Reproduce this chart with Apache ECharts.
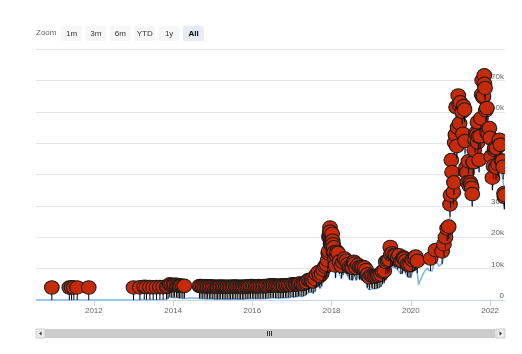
<!DOCTYPE html>
<html>
<head>
<meta charset="utf-8">
<script src="https://cdn.jsdelivr.net/npm/echarts@6/dist/echarts.min.js"></script>
<style>
  html, body { margin: 0; padding: 0; background: #fff; }
  #chart { width: 522px; height: 354px; }
</style>
</head>
<body>
<div id="chart"></div>
<script>
// price series (USD)
const priceDates = [
  '2010-07-17','2010-09-01','2010-12-10','2011-01-15','2011-03-01','2011-05-20','2011-06-10','2011-07-01','2011-08-01','2011-09-15','2011-11-15',
  '2012-02-01','2012-05-01','2012-08-15','2012-11-01',
  '2013-01-01','2013-03-01','2013-04-10','2013-05-01','2013-06-01','2013-07-01','2013-08-01','2013-09-01','2013-10-01','2013-11-01','2013-11-15','2013-12-01','2013-12-15',
  '2014-01-01','2014-01-15','2014-02-01','2014-02-15','2014-03-01','2014-03-15','2014-04-01','2014-04-15','2014-05-01','2014-06-01','2014-07-01','2014-08-01','2014-08-15',
  '2014-09-01','2014-09-15','2014-10-01','2014-10-15','2014-11-01','2014-11-15','2014-12-01','2014-12-15',
  '2015-01-01','2015-01-15','2015-02-01','2015-02-15','2015-03-01','2015-03-15','2015-04-01','2015-04-15','2015-05-01','2015-05-15','2015-06-01','2015-06-15',
  '2015-07-01','2015-07-15','2015-08-01','2015-08-15','2015-09-01','2015-09-15','2015-10-01','2015-10-15','2015-11-01','2015-11-15','2015-12-01','2015-12-15',
  '2016-01-01','2016-01-15','2016-02-01','2016-02-15','2016-03-01','2016-03-15','2016-04-01','2016-04-15','2016-05-01','2016-05-15','2016-06-01','2016-06-15',
  '2016-07-01','2016-07-15','2016-08-01','2016-08-15','2016-09-01','2016-09-15','2016-10-01','2016-10-15','2016-11-01','2016-11-15','2016-12-01','2016-12-15',
  '2017-01-01','2017-01-15','2017-02-01','2017-02-15','2017-03-01','2017-03-15','2017-04-01','2017-04-15','2017-05-01','2017-05-15','2017-06-01','2017-06-15',
  '2017-07-01','2017-07-15','2017-08-01','2017-08-15','2017-09-01','2017-09-15','2017-10-01','2017-10-15','2017-11-01','2017-11-15','2017-11-25',
  '2017-12-01','2017-12-05','2017-12-08','2017-12-11','2017-12-15','2017-12-17','2017-12-19','2017-12-22','2017-12-24','2017-12-28',
  '2018-01-01','2018-01-03','2018-01-06','2018-01-10','2018-01-15','2018-01-17','2018-01-20','2018-01-25','2018-02-01','2018-02-06','2018-02-15','2018-02-20',
  '2018-03-01','2018-03-15','2018-04-01','2018-04-15','2018-05-01','2018-05-15','2018-06-01','2018-06-15','2018-07-01','2018-07-15','2018-07-25',
  '2018-08-01','2018-08-15','2018-09-01','2018-09-15','2018-10-01','2018-10-15','2018-11-01','2018-11-15','2018-11-25','2018-12-01','2018-12-15',
  '2019-01-01','2019-01-15','2019-02-01','2019-02-15','2019-03-01','2019-03-15','2019-04-01','2019-04-15','2019-05-01','2019-05-15','2019-06-01','2019-06-15','2019-06-26',
  '2019-07-01','2019-07-15','2019-08-01','2019-08-15','2019-09-01','2019-09-15','2019-10-01','2019-10-15','2019-10-26','2019-11-01','2019-11-15','2019-12-01','2019-12-15',
  '2020-01-01','2020-01-15','2020-02-01','2020-02-15','2020-03-01','2020-03-12','2020-03-15','2020-04-01','2020-04-15','2020-05-01','2020-05-15','2020-06-01','2020-06-15',
  '2020-07-01','2020-07-15','2020-08-01','2020-08-15','2020-09-01','2020-09-15','2020-10-01','2020-10-15','2020-11-01','2020-11-15','2020-12-01','2020-12-15','2020-12-27',
  '2021-01-01','2021-01-08','2021-01-15','2021-01-27','2021-02-01','2021-02-08','2021-02-15','2021-02-21','2021-02-28','2021-03-07','2021-03-13','2021-03-20','2021-03-25',
  '2021-04-01','2021-04-13','2021-04-18','2021-04-25','2021-05-01','2021-05-10','2021-05-15','2021-05-19','2021-05-25','2021-06-01','2021-06-08','2021-06-15','2021-06-22',
  '2021-07-01','2021-07-08','2021-07-15','2021-07-20','2021-07-28','2021-08-01','2021-08-08','2021-08-15','2021-08-22','2021-09-01','2021-09-06','2021-09-08','2021-09-15','2021-09-21',
  '2021-10-01','2021-10-08','2021-10-15','2021-10-20','2021-10-28','2021-11-01','2021-11-08','2021-11-10','2021-11-15','2021-11-22','2021-12-01','2021-12-04','2021-12-15','2021-12-25',
  '2022-01-01','2022-01-10','2022-01-22','2022-02-01','2022-02-10','2022-02-15','2022-02-24','2022-03-01','2022-03-15','2022-03-28',
  '2022-04-05','2022-04-15','2022-04-25','2022-05-01','2022-05-09','2022-05-12','2022-05-15'
];
const priceValues = [
  0.05, 0.06, 0.2, 0.3, 0.9, 6, 29, 15, 13, 5, 2.5,
  6, 5, 12, 11,
  13, 34, 230, 115, 128, 88, 105, 130, 130, 200, 420, 1000, 800,
  750, 850, 830, 650, 560, 630, 480, 520, 450, 630, 640, 590, 490,
  480, 470, 390, 400, 330, 390, 380, 340,
  315, 210, 225, 235, 260, 285, 245, 220, 235, 237, 225, 250,
  260, 285, 280, 260, 230, 230, 238, 255, 325, 320, 360, 450,
  430, 385, 373, 400, 430, 415, 417, 430, 450, 455, 535, 690,
  675, 665, 605, 570, 572, 607, 615, 640, 730, 710, 750, 780,
  1000, 820, 990, 1010, 1190, 1250, 1080, 1180, 1420, 1720, 2400, 2450,
  2500, 1950, 2730, 4200, 4900, 3700, 4400, 5700, 6700, 7300, 8700,
  10900, 11600, 16000, 16700, 17600, 19100, 17800, 14000, 13900, 14500,
  13600, 15100, 17100, 14900, 13800, 11200, 12800, 11200, 9100, 7000, 10200, 11400,
  11000, 8300, 6900, 8000, 9200, 8500, 7500, 6500, 6400, 6300, 8200,
  7600, 6300, 7200, 6500, 6600, 6500, 6350, 5600, 3900, 4200, 3250,
  3840, 3600, 3480, 3600, 3800, 3920, 4140, 5050, 5350, 8200, 8550, 8800, 12900,
  10600, 10900, 10400, 10300, 9700, 10300, 8300, 8350, 9550, 9200, 8500, 7400, 7100,
  7200, 8800, 9400, 9900, 8500, 4900, 5400, 6600, 6650, 8800, 9300, 10200, 9400,
  9230, 9200, 11800, 11900, 11900, 10800, 10600, 11500, 13800, 16000, 18800, 19400, 26500,
  29400, 40600, 36800, 30400, 33500, 46200, 48700, 57500, 45100, 51000, 61200, 58300, 52300,
  59000, 63500, 56000, 49000, 57800, 56700, 46700, 37000, 38300, 36700, 33500, 40200, 32500,
  33500, 32800, 31800, 29800, 39900, 39900, 43800, 47000, 49300, 48800, 52700, 46300, 48100, 40700,
  48200, 53900, 61500, 66000, 60600, 61000, 67600, 64900, 63600, 56500, 57200, 49400, 48900, 50800,
  47700, 41800, 35000, 38700, 43900, 44500, 38300, 44400, 39300, 47100,
  45500, 40500, 40400, 38500, 30100, 28900, 29500
];

// flags sit on the price series at these dates
const flagDates = [
  '2010-12-10','2011-05-20','2011-06-10','2011-07-01','2011-08-01','2011-11-15','2013-01-01',
  '2013-03-01','2013-04-10','2013-05-01','2013-06-01','2013-07-01','2013-08-01','2013-09-01','2013-10-01','2013-11-01','2013-11-15','2013-12-01','2013-12-15',
  '2014-01-01','2014-01-15','2014-02-01','2014-02-15','2014-03-01','2014-03-15','2014-04-01','2014-04-15',
  '2014-09-01','2014-09-15','2014-10-01','2014-10-15','2014-11-01','2014-11-15','2014-12-01','2014-12-15',
  '2015-01-01','2015-01-15','2015-02-01','2015-02-15','2015-03-01','2015-03-15','2015-04-01','2015-04-15','2015-05-01','2015-05-15','2015-06-01','2015-06-15',
  '2015-07-01','2015-07-15','2015-08-01','2015-08-15','2015-09-01','2015-09-15','2015-10-01','2015-10-15','2015-11-01','2015-11-15','2015-12-01','2015-12-15',
  '2016-01-01','2016-01-15','2016-02-01','2016-02-15','2016-03-01','2016-03-15','2016-04-01','2016-04-15','2016-05-01','2016-05-15','2016-06-01','2016-06-15',
  '2016-07-01','2016-07-15','2016-08-01','2016-08-15','2016-09-01','2016-09-15','2016-10-01','2016-10-15','2016-11-01','2016-11-15','2016-12-01','2016-12-15',
  '2017-01-01','2017-01-15','2017-02-01','2017-02-15','2017-03-01','2017-03-15','2017-04-01','2017-04-15','2017-05-01','2017-05-15','2017-06-01','2017-06-15',
  '2017-07-01','2017-07-15','2017-08-01','2017-08-15','2017-09-01','2017-09-15','2017-10-01','2017-10-15','2017-11-01','2017-11-15','2017-11-25',
  '2017-12-01','2017-12-05','2017-12-08','2017-12-11','2017-12-15','2017-12-17','2017-12-19','2017-12-22','2017-12-24','2017-12-28',
  '2018-01-01','2018-01-03','2018-01-06','2018-01-10','2018-01-15','2018-01-17','2018-01-20','2018-01-25','2018-02-01','2018-02-06','2018-02-15','2018-02-20',
  '2018-03-01','2018-03-15','2018-04-01','2018-04-15','2018-05-01','2018-05-15','2018-06-01','2018-06-15','2018-07-01','2018-07-15','2018-07-25',
  '2018-08-01','2018-08-15','2018-09-01','2018-09-15','2018-10-01','2018-10-15','2018-11-01','2018-11-15','2018-11-25','2018-12-01','2018-12-15',
  '2019-01-01','2019-01-15','2019-02-01','2019-02-15','2019-03-01','2019-03-15','2019-04-01','2019-04-15','2019-05-01','2019-05-15','2019-06-01','2019-06-15','2019-06-26',
  '2019-07-01','2019-07-15','2019-08-01','2019-08-15','2019-09-01','2019-09-15','2019-10-01','2019-10-15','2019-10-26','2019-11-01','2019-11-15','2019-12-01','2019-12-15',
  '2020-01-01','2020-01-15','2020-02-01','2020-02-15','2020-03-01',
  '2020-07-01','2020-08-15','2020-10-15','2020-11-01','2020-11-15','2020-12-01','2020-12-15','2020-12-27',
  '2021-01-01','2021-01-08','2021-01-15','2021-01-27','2021-02-01','2021-02-08','2021-02-15','2021-02-21','2021-02-28','2021-03-07','2021-03-13','2021-03-20','2021-03-25',
  '2021-04-01','2021-04-18','2021-04-25','2021-05-01','2021-05-10','2021-05-15','2021-05-19','2021-05-25','2021-06-01','2021-06-08','2021-06-15','2021-06-22',
  '2021-07-01','2021-07-08','2021-07-15','2021-07-20','2021-07-28','2021-08-01','2021-08-08','2021-08-15','2021-08-22','2021-09-01','2021-09-06','2021-09-08','2021-09-15','2021-09-21',
  '2021-10-01','2021-10-08','2021-10-15','2021-10-20','2021-10-28','2021-11-01','2021-11-08','2021-11-10','2021-11-15','2021-11-22','2021-12-01','2021-12-04','2021-12-15','2021-12-25',
  '2022-01-01','2022-01-10','2022-01-22','2022-02-01','2022-02-10','2022-02-15','2022-02-24','2022-03-01','2022-03-15','2022-03-28',
  '2022-04-05','2022-04-15','2022-04-25','2022-05-01','2022-05-09','2022-05-12','2022-05-15'
];

const rangeButtons = ['1m', '3m', '6m', 'YTD', '1y', 'All'];
const selectedRange = 'All';

const FONT = '"Liberation Sans", Arial, sans-serif';

const priceData = priceDates.map((d, i) => [d, priceValues[i]]);
const priceByDate = {};
priceDates.forEach((d, i) => { priceByDate[d] = priceValues[i]; });
const flagData = flagDates.map(d => [d, priceByDate[d]]);

// circle pin: short stem up from the point, then the disc
function renderFlag(params, api) {
  const p = api.coord([api.value(0), api.value(1)]);
  return {
    type: 'group',
    children: [
      {
        type: 'line',
        shape: { x1: p[0], y1: p[1], x2: p[0], y2: p[1] - 6 },
        style: { stroke: '#000', lineWidth: 1 }
      },
      {
        type: 'circle',
        x: p[0], y: p[1] - 12.5, scaleX: 1.08,
        shape: { cx: 0, cy: 0, r: 6.8 },
        style: { fill: '#c62a08', stroke: '#1b1b1b', lineWidth: 1 }
      }
    ]
  };
}

// range selector + scrollbar drawn as plain graphics
const graphics = [
  { type: 'text', left: 36, top: 29, style: { text: 'Zoom', font: '8px ' + FONT, fill: '#666' } }
];
rangeButtons.forEach((label, i) => {
  const on = label === selectedRange;
  const x = 61 + i * 24.4;
  graphics.push({ type: 'rect', shape: { x: x, y: 26, width: 21, height: 15, r: 2 }, style: { fill: on ? '#e6ebf5' : '#f7f7f7' } });
  graphics.push({
    type: 'text', x: x + 10.5, y: 33.5,
    style: { text: label, font: (on ? 'bold ' : '') + '8px ' + FONT, fill: on ? '#000' : '#333', align: 'center', verticalAlign: 'middle' }
  });
});
graphics.push(
  { type: 'rect', shape: { x: 36, y: 329, width: 469, height: 9 }, style: { fill: '#f2f2f2' } },
  { type: 'rect', shape: { x: 45, y: 329, width: 450, height: 9 }, style: { fill: '#cccccc' } },
  { type: 'rect', shape: { x: 36, y: 329, width: 9, height: 9 }, style: { fill: '#ebebeb', stroke: '#cccccc', lineWidth: 1 } },
  { type: 'rect', shape: { x: 496, y: 329, width: 9, height: 9 }, style: { fill: '#ebebeb', stroke: '#cccccc', lineWidth: 1 } },
  { type: 'polygon', shape: { points: [[41.5, 331.5], [41.5, 335.5], [39, 333.5]] }, style: { fill: '#333' } },
  { type: 'polygon', shape: { points: [[499.5, 331.5], [499.5, 335.5], [502, 333.5]] }, style: { fill: '#333' } },
  { type: 'line', shape: { x1: 267.5, y1: 331, x2: 267.5, y2: 336 }, style: { stroke: '#333', lineWidth: 1 } },
  { type: 'line', shape: { x1: 269.5, y1: 331, x2: 269.5, y2: 336 }, style: { stroke: '#333', lineWidth: 1 } },
  { type: 'line', shape: { x1: 271.5, y1: 331, x2: 271.5, y2: 336 }, style: { stroke: '#333', lineWidth: 1 } }
);

const chart = echarts.init(document.getElementById('chart'), null, { renderer: 'canvas' });

const option = {
  animation: false,
  backgroundColor: '#fff',
  textStyle: { fontFamily: FONT },
  grid: { left: 36, right: 17, top: 49, bottom: 54 },
  graphic: graphics,
  xAxis: {
    type: 'time',
    min: '2010-07-17',
    max: '2022-05-18',
    splitNumber: 6,
    axisLine: { lineStyle: { color: '#ccd6eb' } },
    axisTick: { show: true, length: 6, lineStyle: { color: '#ccd6eb' } },
    axisLabel: {
      color: '#666', fontSize: 8, margin: 7,
      formatter: v => String(new Date(v).getFullYear())
    },
    splitLine: { show: false }
  },
  yAxis: {
    type: 'value',
    position: 'right',
    min: 0,
    max: 80000,
    interval: 10000,
    axisLine: { show: false },
    axisTick: { show: false },
    axisLabel: {
      inside: true, margin: 1, color: '#666', fontSize: 8,
      verticalAlign: 'bottom', lineHeight: 8, showMaxLabel: false,
      formatter: v => (v === 0 ? '0' : v / 1000 + 'k')
    },
    splitLine: { lineStyle: { color: '#e6e6e6' } }
  },
  series: [
    {
      name: 'Price',
      type: 'line',
      data: priceData,
      showSymbol: false,
      lineStyle: { color: '#7cb5ec', width: 1.5 },
      itemStyle: { color: '#7cb5ec' },
      z: 2
    },
    {
      name: 'Flags',
      type: 'custom',
      data: flagData,
      renderItem: renderFlag,
      clip: true,
      z: 3
    }
  ]
};

chart.setOption(option);
</script>
</body>
</html>
